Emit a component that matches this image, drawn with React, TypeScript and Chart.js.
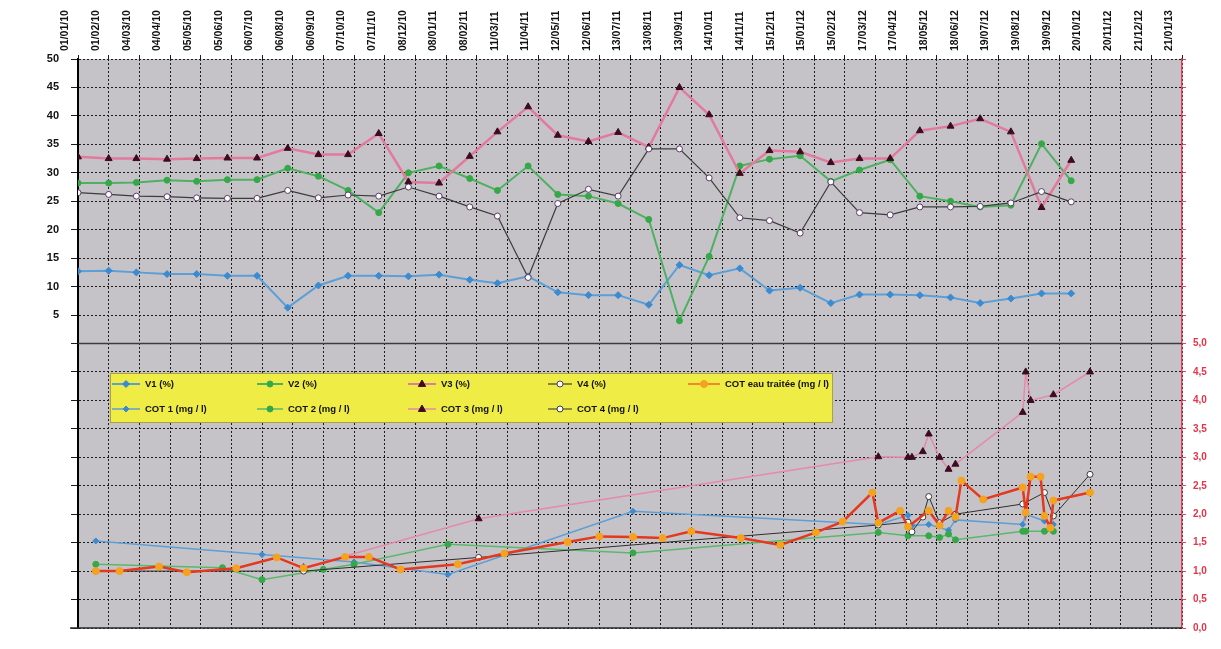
import React, { useEffect, useRef } from 'react';
import { Chart, registerables } from 'chart.js';
Chart.register(...registerables);

// ---------- tick labels ----------
const xTickLabels = [
  '01/01/10', '01/02/10', '04/03/10', '04/04/10', '05/05/10', '05/06/10', '06/07/10', '06/08/10',
  '06/09/10', '07/10/10', '07/11/10', '08/12/10', '08/01/11', '08/02/11', '11/03/11', '11/04/11',
  '12/05/11', '12/06/11', '13/07/11', '13/08/11', '13/09/11', '14/10/11', '14/11/11', '15/12/11',
  '15/01/12', '15/02/12', '17/03/12', '17/04/12', '18/05/12', '18/06/12', '19/07/12', '19/08/12',
  '19/09/12', '20/10/12', '20/11/12', '21/12/12', '21/01/13',
];
const X_START = '2010-01-01';
const X_END = '2013-01-21';
const X_STEP_DAYS = 31;

// ---------- V series (%) : monthly ----------
const vDates = [
  '2010-01-01', '2010-02-01', '2010-03-01', '2010-04-01', '2010-05-01', '2010-06-01', '2010-07-01',
  '2010-08-01', '2010-09-01', '2010-10-01', '2010-11-01', '2010-12-01', '2011-01-01', '2011-02-01',
  '2011-03-01', '2011-04-01', '2011-05-01', '2011-06-01', '2011-07-01', '2011-08-01', '2011-09-01',
  '2011-10-01', '2011-11-01', '2011-12-01', '2012-01-01', '2012-02-01', '2012-03-01', '2012-04-01',
  '2012-05-01', '2012-06-01', '2012-07-01', '2012-08-01', '2012-09-01', '2012-10-01',
];
const v1 = [12.7, 12.8, 12.5, 12.2, 12.2, 11.9, 11.9, 6.3, 10.2, 11.9, 11.9, 11.8, 12.1, 11.2, 10.6, 11.8, 9.0, 8.5, 8.5, 6.8, 13.8, 12.0, 13.2, 9.3, 9.8, 7.1, 8.6, 8.6, 8.5, 8.1, 7.1, 7.9, 8.8, 8.8];
const v2 = [28.2, 28.2, 28.3, 28.7, 28.5, 28.8, 28.8, 30.8, 29.4, 26.9, 23.0, 30.0, 31.2, 29.0, 26.9, 31.2, 26.2, 25.9, 24.6, 21.8, 4.0, 15.3, 31.2, 32.4, 33.0, 28.5, 30.5, 32.3, 25.9, 25.0, 24.0, 24.3, 35.1, 28.6];
const v3 = [32.8, 32.5, 32.5, 32.4, 32.5, 32.6, 32.6, 34.3, 33.2, 33.2, 36.9, 28.4, 28.2, 32.9, 37.2, 41.6, 36.6, 35.5, 37.1, 34.5, 45.0, 40.2, 29.9, 33.9, 33.7, 31.8, 32.5, 32.5, 37.4, 38.2, 39.5, 37.2, 23.9, 32.2];
const v4 = [26.5, 26.2, 25.9, 25.8, 25.6, 25.5, 25.5, 26.9, 25.6, 26.1, 25.9, 27.5, 25.9, 24.0, 22.4, 11.6, 24.6, 27.1, 25.9, 34.2, 34.2, 29.1, 22.1, 21.6, 19.4, 28.4, 23.0, 22.6, 24.0, 24.0, 24.1, 24.7, 26.7, 24.9];

// ---------- COT series (mg / l) ----------
const cotEauDates = [
  '2010-01-19', '2010-02-12', '2010-03-24', '2010-04-21', '2010-06-10', '2010-07-21', '2010-08-17',
  '2010-09-28', '2010-10-22', '2010-11-23', '2011-01-20', '2011-03-08', '2011-05-11', '2011-06-12',
  '2011-07-16', '2011-08-15', '2011-09-13', '2011-11-02', '2011-12-12', '2012-01-17', '2012-02-13',
  '2012-03-14', '2012-03-20', '2012-04-11', '2012-04-19', '2012-05-10', '2012-05-21', '2012-05-30',
  '2012-06-06', '2012-06-12', '2012-07-04', '2012-08-13', '2012-08-16', '2012-08-21', '2012-08-31',
  '2012-09-04', '2012-09-10', '2012-09-13', '2012-10-20',
];
const cotEau = [1.0, 1.0, 1.08, 0.98, 1.05, 1.24, 1.05, 1.25, 1.25, 1.03, 1.12, 1.31, 1.51, 1.61, 1.6, 1.58, 1.7, 1.58, 1.46, 1.68, 1.87, 2.38, 1.85, 2.06, 1.78, 2.06, 1.8, 2.06, 1.95, 2.59, 2.26, 2.47, 2.03, 2.66, 2.66, 1.97, 1.76, 2.24, 2.38];

const cot1Dates = ['2010-01-19', '2010-07-06', '2010-10-07', '2011-01-10', '2011-07-16', '2012-03-20', '2012-04-19', '2012-04-23', '2012-05-10', '2012-05-30', '2012-06-06', '2012-08-13', '2012-08-16', '2012-09-04', '2012-09-13'];
const cot1 = [1.53, 1.29, 1.16, 0.94, 2.05, 1.82, 1.98, 1.8, 1.82, 1.72, 1.9, 1.82, 2.0, 1.88, 1.82];

const cot2Dates = ['2010-01-19', '2010-05-27', '2010-07-06', '2010-09-06', '2010-10-07', '2011-01-10', '2011-07-16', '2012-03-20', '2012-04-19', '2012-05-10', '2012-05-21', '2012-05-30', '2012-06-06', '2012-08-13', '2012-08-16', '2012-09-04', '2012-09-13'];
const cot2 = [1.12, 1.06, 0.85, 1.03, 1.12, 1.47, 1.32, 1.68, 1.62, 1.62, 1.59, 1.65, 1.55, 1.7, 1.7, 1.7, 1.7];

const cot3Dates = ['2010-08-17', '2011-02-10', '2012-03-20', '2012-04-19', '2012-04-23', '2012-05-04', '2012-05-10', '2012-05-21', '2012-05-30', '2012-06-06', '2012-08-13', '2012-08-16', '2012-08-21', '2012-09-13', '2012-10-20'];
const cot3 = [1.06, 1.92, 3.01, 3.0, 3.0, 3.1, 3.41, 3.0, 2.79, 2.88, 3.79, 4.5, 4.0, 4.1, 4.5];

const cot4Dates = ['2010-01-19', '2010-08-17', '2011-02-10', '2012-03-20', '2012-04-19', '2012-04-23', '2012-05-04', '2012-05-10', '2012-05-21', '2012-06-06', '2012-08-13', '2012-09-04', '2012-09-13', '2012-10-20'];
const cot4 = [1.0, 1.0, 1.24, 1.81, 1.86, 1.69, 1.95, 2.31, 1.85, 2.0, 2.18, 2.38, 1.97, 2.7];

// ---------- helpers ----------
const BASE = Date.parse(X_START + 'T00:00:00Z');
const dayOf = (s: string) => Math.round((Date.parse(s + 'T00:00:00Z') - BASE) / 86400000);
const pts = (dates: string[], vals: number[]) => dates.map((d, i) => ({ x: dayOf(d), y: vals[i] }));

const FONT = "'Liberation Sans', Arial, sans-serif";

type Style = { line: string; width: number; point: string; bg: string; border: string; r: number };
const S: Record<string, Style> = {
  blue: { line: '#5c9fd6', width: 2, point: 'rectRot', bg: '#3b8bd0', border: '#3b8bd0', r: 3.5 },
  green: { line: '#4fb062', width: 2, point: 'circle', bg: '#35a848', border: '#35a848', r: 3 },
  pink: { line: '#e27a9c', width: 2.5, point: 'triangle', bg: '#3a0c1e', border: '#3a0c1e', r: 4 },
  dark: { line: '#3c3c3c', width: 1.2, point: 'circle', bg: '#ffffff', border: '#5b3c6b', r: 3 },
  cblue: { line: '#5c9fd6', width: 1.5, point: 'rectRot', bg: '#3b8bd0', border: '#3b8bd0', r: 3 },
  cgreen: { line: '#5ab86c', width: 1.5, point: 'circle', bg: '#35a848', border: '#35a848', r: 3 },
  cpink: { line: '#e58aa8', width: 1.5, point: 'triangle', bg: '#3a0c1e', border: '#3a0c1e', r: 4 },
  cdark: { line: '#2e2e2e', width: 1, point: 'circle', bg: '#ffffff', border: '#3a3a3a', r: 3 },
  orange: { line: '#e4381f', width: 2.5, point: 'circle', bg: '#f5a21e', border: '#f5a21e', r: 3.5 },
};

const mk = (label: string, data: any[], st: Style, yAxisID: string, order = 1) => ({
  label, data, yAxisID, xAxisID: 'x', order,
  borderColor: st.line, borderWidth: st.width, backgroundColor: st.bg,
  pointStyle: st.point, pointRadius: st.r, pointBackgroundColor: st.bg,
  pointBorderColor: st.border, pointBorderWidth: 1, tension: 0, fill: false,
});

const legendItems = [
  { label: 'V1 (%)', st: S.blue, x: 112, y: 384, len: 28 },
  { label: 'V2 (%)', st: S.green, x: 257, y: 384, len: 26 },
  { label: 'V3 (%)', st: S.pink, x: 408, y: 384, len: 28 },
  { label: 'V4 (%)', st: S.dark, x: 548, y: 384, len: 24 },
  { label: 'COT eau traitée (mg / l)', st: { ...S.orange, line: '#f08a2a' }, x: 688, y: 384, len: 32 },
  { label: 'COT 1 (mg / l)', st: S.cblue, x: 112, y: 409, len: 28 },
  { label: 'COT 2 (mg / l)', st: S.cgreen, x: 257, y: 409, len: 26 },
  { label: 'COT 3 (mg / l)', st: S.cpink, x: 408, y: 409, len: 28 },
  { label: 'COT 4 (mg / l)', st: S.cdark, x: 548, y: 409, len: 24 },
];

function drawMarker(ctx: CanvasRenderingContext2D, st: Style, x: number, y: number) {
  const r = st.r;
  ctx.save();
  ctx.fillStyle = st.bg;
  ctx.strokeStyle = st.border;
  ctx.lineWidth = 1;
  ctx.beginPath();
  if (st.point === 'rectRot') {
    ctx.moveTo(x, y - r); ctx.lineTo(x + r, y); ctx.lineTo(x, y + r); ctx.lineTo(x - r, y); ctx.closePath();
  } else if (st.point === 'triangle') {
    ctx.moveTo(x, y - r); ctx.lineTo(x + r * 0.9, y + r * 0.6); ctx.lineTo(x - r * 0.9, y + r * 0.6); ctx.closePath();
  } else {
    ctx.arc(x, y, r, 0, Math.PI * 2);
  }
  ctx.fill();
  ctx.stroke();
  ctx.restore();
}

const decorPlugin = {
  id: 'decor',
  beforeDraw(chart: any) {
    const { ctx, chartArea: a } = chart;
    ctx.save();
    ctx.fillStyle = '#ffffff';
    ctx.fillRect(0, 0, chart.width, chart.height);
    ctx.fillStyle = '#c6c3c8';
    ctx.fillRect(a.left, a.top, a.right - a.left, a.bottom - a.top);
    ctx.restore();
  },
  beforeDatasetsDraw(chart: any) {
    const { ctx, chartArea: a, scales } = chart;
    const y0 = scales.y.getPixelForValue(0);
    ctx.save();
    ctx.strokeStyle = '#3c3c3c';
    ctx.lineWidth = 1.3;
    ctx.beginPath();
    ctx.moveTo(a.left, y0); ctx.lineTo(a.right, y0);
    ctx.stroke();
    ctx.strokeStyle = '#2a2a2a';
    ctx.lineWidth = 1.5;
    ctx.beginPath();
    ctx.moveTo(a.left - 8, a.bottom); ctx.lineTo(a.right, a.bottom);
    ctx.stroke();
    ctx.restore();
  },
  afterDraw(chart: any) {
    const { ctx } = chart;
    ctx.save();
    ctx.fillStyle = '#efec46';
    ctx.fillRect(110, 373, 722, 49);
    ctx.strokeStyle = '#a8a43a';
    ctx.lineWidth = 1;
    ctx.strokeRect(110.5, 373.5, 722, 49);
    ctx.font = `bold 9.5px ${FONT}`;
    ctx.textBaseline = 'middle';
    ctx.textAlign = 'left';
    legendItems.forEach((it) => {
      ctx.strokeStyle = it.st.line;
      ctx.lineWidth = Math.min(it.st.width, 2);
      ctx.beginPath();
      ctx.moveTo(it.x, it.y); ctx.lineTo(it.x + it.len, it.y);
      ctx.stroke();
      drawMarker(ctx, it.st, it.x + it.len / 2, it.y);
      ctx.fillStyle = '#111';
      ctx.fillText(it.label, it.x + it.len + 5, it.y + 0.5);
    });
    ctx.restore();
  },
};

export default function App() {
  const ref = useRef<HTMLCanvasElement>(null);
  useEffect(() => {
    document.body.style.margin = '0';
    const canvas = ref.current!;
    const datasets: any[] = [
      mk('COT eau traitée (mg / l)', pts(cotEauDates, cotEau), S.orange, 'y2', 0),
      mk('COT 4 (mg / l)', pts(cot4Dates, cot4), S.cdark, 'y2'),
      mk('COT 3 (mg / l)', pts(cot3Dates, cot3), S.cpink, 'y2'),
      mk('COT 2 (mg / l)', pts(cot2Dates, cot2), S.cgreen, 'y2'),
      mk('COT 1 (mg / l)', pts(cot1Dates, cot1), S.cblue, 'y2'),
      mk('V4 (%)', pts(vDates, v4), S.dark, 'y'),
      mk('V3 (%)', pts(vDates, v3), S.pink, 'y'),
      mk('V2 (%)', pts(vDates, v2), S.green, 'y'),
      mk('V1 (%)', pts(vDates, v1), S.blue, 'y'),
    ];
    const chart = new Chart(canvas, {
      type: 'line',
      data: { datasets },
      plugins: [decorPlugin],
      options: {
        responsive: false,
        animation: false,
        devicePixelRatio: 1,
        layout: { padding: { left: 0, right: 0, top: 0, bottom: 21 } },
        plugins: { legend: { display: false }, tooltip: { enabled: false } },
        scales: {
          x: {
            type: 'linear',
            position: 'top',
            min: 0,
            max: dayOf(X_END),
            afterFit: (s: any) => { s.height = 59; },
            ticks: {
              stepSize: X_STEP_DAYS,
              autoSkip: false,
              minRotation: 90,
              maxRotation: 90,
              padding: 4,
              color: '#111',
              font: { family: FONT, size: 10.5, weight: 'bold' },
              callback: (_v: any, i: number) => xTickLabels[i] ?? '',
            },
            grid: { color: '#1c1c1c', lineWidth: 1, tickLength: 4 },
            border: { display: false, dash: [2, 2] },
          },
          y: {
            position: 'left',
            min: -50,
            max: 50,
            afterFit: (s: any) => { s.width = 78; },
            ticks: {
              stepSize: 5,
              padding: 12,
              color: '#111',
              font: { family: FONT, size: 11, weight: 'bold' },
              callback: (v: any) => (v > 0 ? String(v) : ''),
            },
            grid: { color: '#1c1c1c', lineWidth: 1, tickLength: 7 },
            border: { display: true, color: '#000', width: 2, dash: [2, 2] },
          },
          y2: {
            position: 'right',
            min: 0,
            max: 10,
            afterFit: (s: any) => { s.width = 39; },
            ticks: {
              stepSize: 0.5,
              padding: 7,
              color: '#e8334a',
              font: { family: FONT, size: 10, weight: 'bold' },
              callback: (v: any) => (v <= 5 ? Number(v).toFixed(1).replace('.', ',') : ''),
            },
            grid: { drawOnChartArea: false, color: '#e04a5e', tickLength: 4 },
            border: { display: true, color: '#e0405a', width: 1.5 },
          },
        },
      } as any,
    });
    return () => chart.destroy();
  }, []);
  return (
    <div style={{ width: 1221, height: 649, position: 'relative', overflow: 'hidden' }}>
      <canvas ref={ref} width={1221} height={649} />
    </div>
  );
}
